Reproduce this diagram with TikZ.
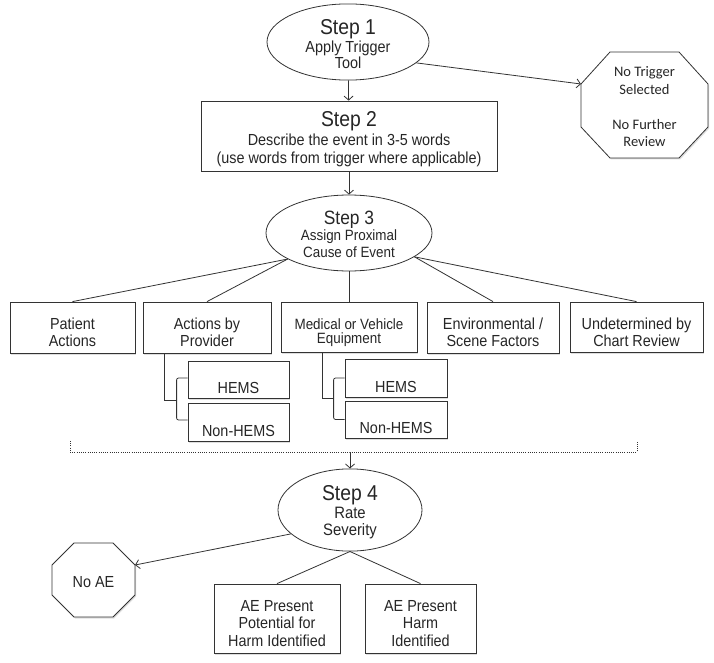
\documentclass[tikz,border=0pt]{standalone}
\usepackage{fontspec}
\setmainfont[FakeStretch=0.9]{Liberation Sans}
\newfontfamily\calfont{Carlito}
\usetikzlibrary{shapes.geometric,arrows.meta,calc,shadows}
\begin{document}
\begin{tikzpicture}[x=1pt,y=-1pt,
  line/.style={draw=black!80, line width=0.8pt},
  arr/.style={line, -{Straight Barb[length=4pt,width=9pt,line width=0.8pt]}},
  shad/.style={drop shadow={shadow xshift=1.2pt,shadow yshift=-1.5pt,fill=black!25}},
  down/.style={execute at begin node={\rule{0pt}{#1}}},
  box/.style={line, fill=white, shad, rectangle, inner sep=0pt, align=center, text=black!85,
              font=\fontsize{16}{17}\selectfont},
  ell/.style={line, fill=white, ellipse, inner sep=0pt, align=center, text=black!85},
  octtext/.style={inner sep=0pt, align=center, text=black!85},
]
\fill[white] (0,0) rectangle (714,663);
\useasboundingbox (0,0) rectangle (714,663);

% Step 1
\node[ell, minimum width=162pt, minimum height=70pt, down=53.7pt,
      font=\fontsize{16}{16}\selectfont] (s1) at (348,42)
  {{\fontsize{21.5}{22}\selectfont Step 1}\\[1pt]Apply Trigger\\Tool};

% Step 2
\node[box, minimum width=296pt, minimum height=70pt, down=57.7pt,
      font=\fontsize{16}{18}\selectfont] (s2) at (349,136)
  {{\fontsize{21.5}{22}\selectfont Step 2}\\[1pt]Describe the event in 3-5 words\\(use words from trigger where applicable)};

% No trigger octagon
\draw[line, fill=white, shad] (610,52) -- (679,52) -- (708,84) -- (708,127) -- (679,158) -- (610,158) -- (581,127) -- (581,84) -- cycle;
\node[octtext, font=\calfont\fontsize{14.5}{17.5}\selectfont] (nt) at (644.5,107)
  {No Trigger\\Selected\\[17.5pt]No Further\\Review};
\coordinate (ntv) at (581,84);

% Step 3
\node[ell, minimum width=166pt, minimum height=76pt, down=49.7pt,
      font=\fontsize{14.9}{17}\selectfont] (s3) at (349,233)
  {{\fontsize{19.3}{20}\selectfont Step 3}\\[-1pt]Assign Proximal\\Cause of Event};

% Cause boxes
\node[box, minimum width=125pt, minimum height=51pt, down=38.5pt] (b1) at (72.5,327.5) {Patient\\Actions};
\node[box, minimum width=128pt, minimum height=51pt, down=38.5pt] (b2) at (207,327.5) {Actions by\\Provider};
\node[box, minimum width=136pt, minimum height=50pt, down=36.8pt, font=\fontsize{14.9}{14.5}\selectfont] (b3) at (349,327) {Medical or Vehicle\\Equipment};
\node[box, minimum width=132pt, minimum height=51pt, down=38.5pt] (b4) at (493,327.5) {Environmental /\\Scene Factors};
\node[box, minimum width=133pt, minimum height=50pt, down=38.5pt] (b5) at (636.5,327) {Undetermined by\\Chart Review};

% HEMS sub-boxes
\node[box, minimum width=101pt, minimum height=37pt, down=29pt] (hA) at (238.5,379.5) {HEMS};
\node[box, minimum width=101pt, minimum height=38pt, down=29pt] (nA) at (238.5,422) {Non-HEMS};
\node[box, minimum width=102pt, minimum height=38pt, down=29pt] (hB) at (396,378) {HEMS};
\node[box, minimum width=102pt, minimum height=37pt, down=29pt] (nB) at (396,419.5) {Non-HEMS};

% Step 4
\node[ell, minimum width=144pt, minimum height=70pt, down=54.7pt,
      font=\fontsize{16.5}{17}\selectfont] (s4) at (350,510)
  {{\fontsize{21.5}{22}\selectfont Step 4}\\[1pt]Rate\\Severity};

% No AE octagon
\draw[line, fill=white, shad] (74,543) -- (113,543) -- (135,565) -- (135,595) -- (113,617) -- (74,617) -- (52,595) -- (52,565) -- cycle;
\node[octtext, font=\fontsize{16}{17}\selectfont] (noae) at (93.5,582) {No AE};
\coordinate (noaev) at (135,565);

% AE boxes
\node[box, minimum width=126pt, minimum height=69pt, down=55.5pt, font=\fontsize{16}{17.5}\selectfont] (aep) at (277,618.5) {AE Present\\Potential for\\Harm Identified};
\node[box, minimum width=111pt, minimum height=69pt, down=55.5pt, font=\fontsize{16}{17.5}\selectfont] (aeh) at (420.5,618.5) {AE Present\\Harm\\Identified};

% connectors
\draw[arr] (s1) -- (s2);
\draw[arr] (s1.-17) -- (ntv);
\draw[arr] (s2) -- (s3);
\draw[line] (s3.203) -- (b1.north);
\draw[line] (s3.203) -- (b2.north);
\draw[line] (s3) -- (b3);
\draw[line] (s3.340) -- (b4.north);
\draw[line] (s3.340) -- (b5.north);

% brackets
\draw[line] ($(b2.south west)+(22,0)$) |- ($(hA.west)!0.5!(nA.west)+(-11,0)$);
\draw[line, rounded corners=2pt] ($(hA.west)+(0,-1.5)$) -- ++(-11,0) -- ($(nA.west)+(-11,-2)$) -- ($(nA.west)+(0,-2)$);
\draw[line] ($(b3.south west)+(42,0)$) |- ($(hB.west)!0.5!(nB.west)+(-11,0)$);
\draw[line, rounded corners=2pt] ($(hB.west)+(0,0)$) -- ++(-11,0) -- ($(nB.west)+(-11,0)$) -- ($(nB.west)+(0,0)$);

% dotted collector
\coordinate (dl) at (70,441);
\coordinate (dr) at (637,441);
\coordinate (dm) at (350,452);
\draw[line, dash pattern=on 1pt off 1.2pt] (dl) |- (dm) -| (dr);
\draw[arr] (dm) -- (s4);

\draw[arr] (s4.202) -- (noaev);
\draw[line] (s4.south) -- (aep.north);
\draw[line] (s4.south) -- (aeh.north);
\end{tikzpicture}
\end{document}
